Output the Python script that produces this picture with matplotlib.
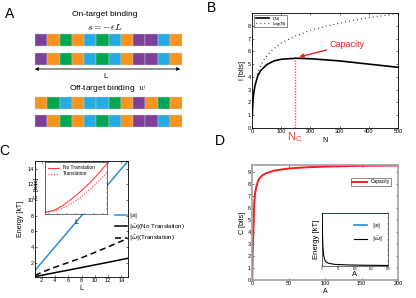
import matplotlib

matplotlib.use("Agg")
import matplotlib.pyplot as plt  # noqa: E402
from matplotlib.patches import Rectangle  # noqa: E402

plt.rcParams["font.family"] = ["Liberation Sans", "DejaVu Sans"]
plt.rcParams["mathtext.fontset"] = "dejavusans"
plt.rcParams["xtick.direction"] = "in"
plt.rcParams["ytick.direction"] = "in"
plt.rcParams["xtick.top"] = True
plt.rcParams["ytick.right"] = True
plt.rcParams["axes.linewidth"] = 0.6

PALETTE = {"P": "#7d3f98", "O": "#f7941d", "G": "#00a651", "B": "#27aae1"}

# Panel A: sequence rows
ROW_ON_1 = list("POGOBGBOPPBO")
ROW_ON_2 = list("POGOBGBOPPBO")
ROW_OFF_1 = list("OGBOBBGOPOGO")
ROW_OFF_2 = list("POGOBGBOPPBO")

# Panel B: information vs N
N_INFO = [1, 3, 5, 10, 20, 30, 50, 75, 100, 150, 200, 300, 400, 500]
I_INFO = [1.0, 2.0, 2.6, 3.3, 4.1, 4.5, 4.95, 5.25, 5.38, 5.46, 5.42, 5.25, 5.0, 4.75]
N_LOG = [18, 25, 30, 40, 60, 80, 100, 150, 200, 250, 300, 350, 400, 450, 500]
LOG_N = [4.2, 4.65, 4.9, 5.3, 5.9, 6.3, 6.65, 7.2, 7.65, 7.95, 8.2, 8.45, 8.65, 8.8, 8.95]
N_CAP = 147
I_CAP = 5.46

# Panel C: energies vs L
L_VALS = [1, 2, 4, 6, 8, 10, 12, 15]
S_ABS = [1, 2, 4, 6, 8, 10, 12, 15]
W_NO_TRANS = [0.2, 0.37, 0.7, 1.03, 1.36, 1.7, 2.03, 2.55]
W_TRANS = [0.35, 0.75, 1.4, 2.0, 2.6, 3.3, 4.0, 5.1]

# Panel C inset: capacity vs L
L_INSET = [1, 3, 5, 7, 9, 11, 13, 15]
C_NO_TRANS = [0.3, 0.7, 1.6, 2.9, 4.3, 5.9, 7.7, 9.7]
C_TRANS = [0.3, 0.5, 1.1, 2.0, 3.2, 4.6, 6.2, 8.0]

# Panel D: capacity vs A
A_VALS = [0.3, 1, 2, 3, 4, 6, 8, 10, 15, 20, 30, 50, 75, 100, 150, 200]
C_VALS = [0, 2.5, 4.2, 6.3, 7.1, 7.8, 8.2, 8.45, 8.75, 8.9, 9.1, 9.28, 9.38, 9.44, 9.5, 9.53]

# Panel D inset: energies vs A
A_INSET = [0.5, 1, 2, 3, 5, 8, 12, 20, 40, 80, 120, 200]
S_INSET = [10] * len(A_INSET)
W_INSET = [9.8, 7.0, 4.8, 3.4, 2.0, 1.2, 0.8, 0.5, 0.3, 0.2, 0.15, 0.1]

BLUE = "#2a8fd4"
TICK_FS = 4
LABEL_FS = 5

fig = plt.figure(figsize=(4.16, 2.98), dpi=100)


def px_axes(x0, y0, x1, y1):
    """Axes from pixel box (top-left origin)."""
    return fig.add_axes([x0 / 416, 1 - y1 / 298, (x1 - x0) / 416, (y1 - y0) / 298])


def style(ax, fs=TICK_FS):
    ax.tick_params(labelsize=fs, length=1.5, width=0.4, pad=1)


# ---- Panel A ----
axa = fig.add_axes([0, 0.5, 0.5, 0.5])
axa.set_xlim(0, 208)
axa.set_ylim(149, 0)
axa.axis("off")
x0, x1 = 35, 182
cw = (x1 - x0) / 12
for row, (ytop, ybot) in zip(
    [ROW_ON_1, ROW_ON_2, ROW_OFF_1, ROW_OFF_2],
    [(34, 46), (53, 65), (97, 109), (115, 127)],
):
    for i, c in enumerate(row):
        axa.add_patch(
            Rectangle((x0 + i * cw, ytop), cw, ybot - ytop, fc=PALETTE[c],
                      ec="#cccccc", lw=0.3)
        )
axa.text(105, 15, "On-target binding", ha="center", va="center", fontsize=6)
axa.text(105, 27, r"$s = -\epsilon L$", ha="center", va="center", fontsize=7,
         math_fontfamily="cm")
axa.annotate("", xy=(32, 69), xytext=(183, 69),
             arrowprops=dict(arrowstyle="<|-|>", color="black", lw=0.6,
                             mutation_scale=5))
axa.text(105, 76, "L", ha="center", va="center", fontsize=5.5)
axa.text(108, 89, r"Off-target binding  $w$", ha="center", va="center",
         fontsize=6, math_fontfamily="cm")

# ---- Panel B ----
axb = px_axes(252, 13, 398, 128)
axb.plot(N_INFO, I_INFO, color="black", lw=1.2, label="I(N)")
axb.plot(N_LOG, LOG_N, color="black", lw=0.9, ls=(0, (0.6, 2.6)), label="Log(N)")
axb.plot([N_CAP, N_CAP], [0, I_CAP], color="#ff5050", lw=1.0, ls=(0, (1, 1)),
         zorder=1)
axb.annotate("Capacity", xy=(N_CAP + 5, I_CAP + 0.05), xytext=(265, 6.5),
             color="#f02020", fontsize=6.5, ha="left", va="center",
             arrowprops=dict(arrowstyle="-|>", color="#f02020", lw=1,
                             mutation_scale=6, shrinkA=0))
axb.text(N_CAP, -0.15, r"$\mathregular{N_C}$", color="#f03a3a", fontsize=8,
         ha="center", va="top")
axb.set_xlim(0, 500)
axb.set_ylim(0, 9)
axb.set_yticks(range(0, 9))
axb.set_xticks([0, 100, 200, 300, 400, 500])
axb.set_xlabel("N", fontsize=LABEL_FS, labelpad=2)
axb.set_ylabel("I [bits]", fontsize=LABEL_FS, labelpad=1)
axb.legend(loc="upper left", fontsize=3.2, handlelength=3, frameon=True,
           fancybox=False, edgecolor="black", borderpad=0.3, labelspacing=0.2)
style(axb)
axb.get_legend().get_frame().set_linewidth(0.4)

# ---- Panel C ----
axc = px_axes(35, 161, 128, 277)
axc.plot(L_VALS, S_ABS, color=BLUE, lw=1.1, label=r"$|s|$")
axc.plot(L_VALS, W_NO_TRANS, color="black", lw=1.1,
         label=r"$|\bar{\omega}|$(No Translation)")
axc.plot(L_VALS, W_TRANS, color="black", lw=1.1, ls=(0, (4, 2.5)),
         label=r"$|\bar{\omega}|$(Translation)")
axc.set_xlim(1, 15)
axc.set_ylim(0.15, 15)
axc.set_xticks(range(2, 16, 2))
axc.set_yticks(range(2, 16, 2))
axc.set_xlabel("L", fontsize=LABEL_FS, labelpad=1)
axc.set_ylabel("Energy [kT]", fontsize=LABEL_FS, labelpad=2)
style(axc)
fig.legend(*axc.get_legend_handles_labels(), loc="upper left",
           bbox_to_anchor=(112 / 416, 1 - 209 / 298), fontsize=4.5,
           frameon=False, handlelength=2, handletextpad=0.3, labelspacing=0.35,
           borderaxespad=0)

axci = px_axes(45, 162, 107, 214)
axci.plot(L_INSET, C_NO_TRANS, color="#ff3b3b", lw=0.8, label="No Translation")
axci.plot(L_INSET, C_TRANS, color="#ff3b3b", lw=0.9, ls=(0, (0.8, 1.4)),
          label="Translation")
axci.set_xlim(1, 15)
axci.set_ylim(0, 10)
axci.set_xticks(range(2, 16, 2))
axci.set_yticks(range(1, 10, 1))
axci.set_xticklabels([])
axci.set_yticklabels([])
axci.set_xlabel("L", fontsize=5, labelpad=0)
axci.set_ylabel("C  [bits]", fontsize=4.5, labelpad=0.5)
axci.tick_params(length=1, width=0.3)
axci.legend(loc="upper left", fontsize=3.5, frameon=False, handlelength=2.2,
            labelspacing=0.2, borderaxespad=0.3)
for sp in axci.spines.values():
    sp.set_linewidth(0.4)

# ---- Panel D ----
axd = px_axes(252, 165, 398, 280)
axd.plot(A_VALS, C_VALS, color="#ff1a1a", lw=1.4, label="Capacity")
axd.set_xlim(0, 200)
axd.set_ylim(0, 9.57)
axd.set_yticks(range(0, 10))
axd.set_xticks([0, 50, 100, 150, 200])
axd.set_xlabel("A", fontsize=LABEL_FS, labelpad=1)
axd.set_ylabel("C [bits]", fontsize=LABEL_FS, labelpad=1)
for sp in axd.spines.values():
    sp.set_color("#a0a0a0")
    sp.set_linewidth(1.2)
style(axd)
leg = axd.legend(loc="upper right", bbox_to_anchor=(0.97, 0.91), fontsize=3.5,
                 frameon=True, fancybox=False, edgecolor="black", borderpad=0.3,
                 handlelength=3)
leg.get_frame().set_linewidth(0.4)

axdi = px_axes(322, 213, 388, 266)
axdi.plot(A_INSET, S_INSET, color=BLUE, lw=1.2, label=r"$|s|$")
axdi.plot(A_INSET, W_INSET, color="black", lw=0.8, label=r"$|\bar{\omega}|$")
axdi.set_xlim(0, 200)
axdi.set_ylim(0, 10)
axdi.set_xticks([0, 50, 100, 150, 200])
axdi.set_yticks(range(0, 11))
axdi.set_xlabel("A", fontsize=5.5, labelpad=0)
axdi.set_ylabel("Energy [kT]", fontsize=5.5, labelpad=1)
axdi.tick_params(labelsize=2, length=1, width=0.3, pad=0.5)
axdi.set_yticklabels([])
axdi.legend(loc="upper right", bbox_to_anchor=(1.0, 0.95), fontsize=4.5,
            frameon=False, handlelength=2, labelspacing=0.8)
for sp in axdi.spines.values():
    sp.set_linewidth(0.4)

# ---- Panel labels ----
for lab, (x, y) in {"A": (10, 14), "B": (212, 8), "C": (4, 151), "D": (220, 141)}.items():
    fig.text(x / 416, 1 - y / 298, lab, fontsize=10, ha="center", va="center")

fig.savefig("out.png", dpi=100)
